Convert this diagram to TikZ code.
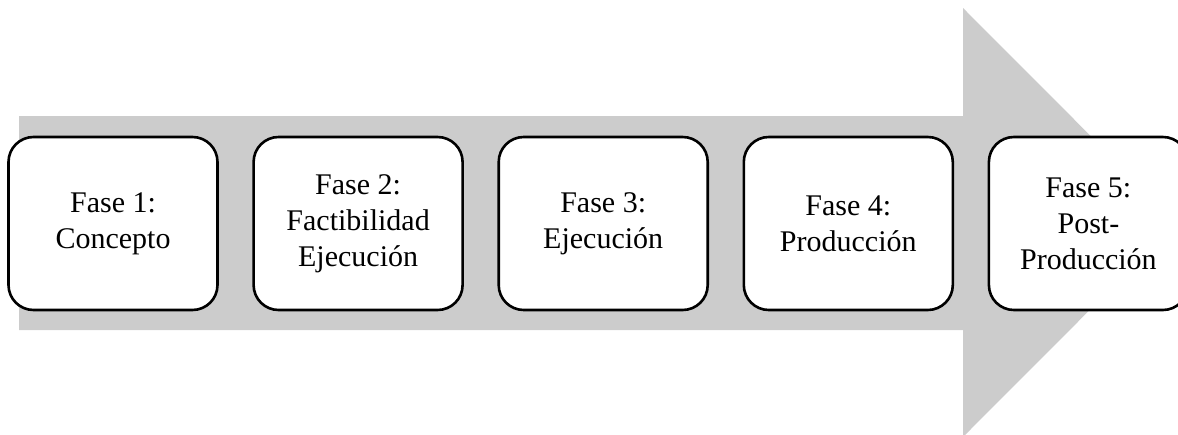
\documentclass[tikz,border=0pt]{standalone}
\usepackage{fontspec}
\setmainfont{Liberation Serif}
\usetikzlibrary{positioning}
\definecolor{bandgray}{RGB}{204,204,204}
\begin{document}
\begin{tikzpicture}[x=0.5pt,y=-0.5pt,
  phase/.style={draw,line width=1.3pt,rounded corners=12.5pt,fill=white,
    minimum width=104.5pt,minimum height=86.5pt,inner sep=0pt,
    align=center,font=\fontsize{15}{18}\selectfont},
  node distance=16.75pt]
\useasboundingbox (0,0) rectangle (1178,434);
\fill[bandgray] (19,116) -- (963,116) -- (963,8) -- (1177,222.5) -- (963,437) -- (963,330) -- (19,330) -- cycle;
\node[phase]      (concepto)                               at (113,223.5) {Fase 1:\\Concepto};
\node[phase]      (factibilidad) [right=of concepto]       {Fase 2:\\Factibilidad\\Ejecución};
\node[phase]      (ejecucion)    [right=of factibilidad]   {Fase 3:\\Ejecución};
\node[phase]      (produccion)   [right=of ejecucion]      {Fase 4:\\Producción};
\node[phase,minimum width=99.5pt] (postproduccion) [right=of produccion] {Fase 5:\\Post-\\Producción};
\end{tikzpicture}
\end{document}
